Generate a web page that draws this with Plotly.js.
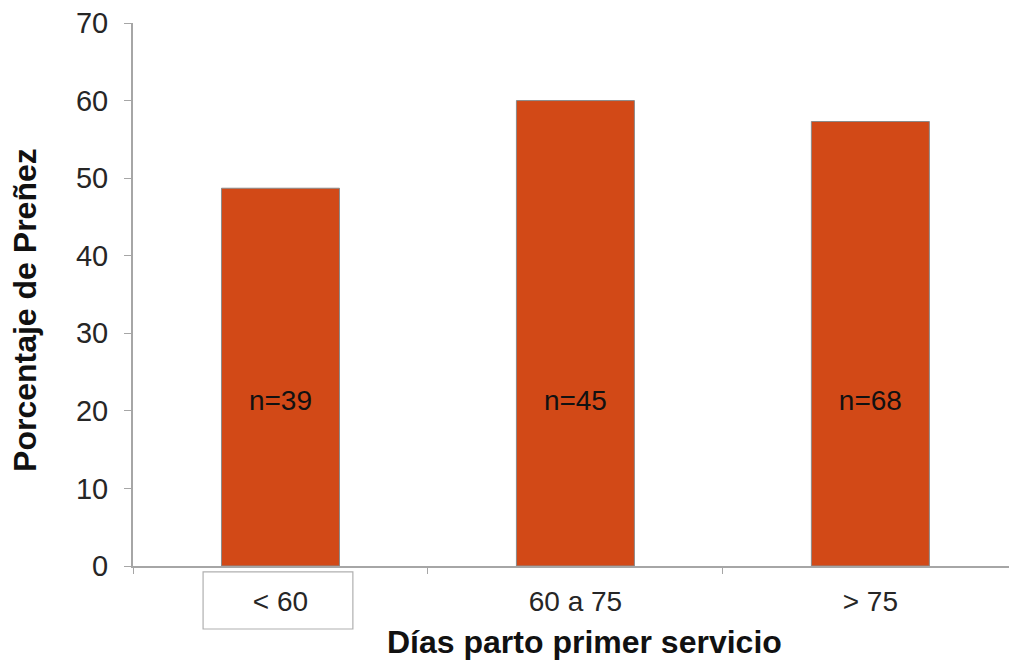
<!DOCTYPE html>
<html>
<head>
<meta charset="utf-8">
<script src="https://cdn.plot.ly/plotly-3.0.1.min.js"></script>
<style>
  html, body { margin: 0; padding: 0; background: #fff; }
  #chart { width: 1009px; height: 662px; }
</style>
</head>
<body>
<div id="chart"></div>
<script>
// Pregnancy rate by days from calving to first service
const categories = ['< 60', '60 a 75', '> 75'];
const pregnancyPct = [48.7, 60, 57.3];
const sampleSizes = [39, 45, 68];
const countLabelY = 21;

const FONT = 'Liberation Sans, Arial, sans-serif';

const bars = {
  type: 'bar',
  x: categories,
  y: pregnancyPct,
  width: 0.4,
  marker: { color: '#D24917', line: { color: '#8a8a8a', width: 1 } },
  hoverinfo: 'x+y'
};

const counts = {
  type: 'scatter',
  mode: 'text',
  x: categories,
  y: categories.map(() => countLabelY),
  text: sampleSizes.map(n => 'n=' + n),
  textfont: { family: FONT, size: 28, color: '#111' },
  hoverinfo: 'skip'
};

const layout = {
  width: 1009,
  height: 662,
  margin: { l: 133, r: 0, t: 23, b: 96 },
  paper_bgcolor: '#ffffff',
  plot_bgcolor: '#ffffff',
  showlegend: false,
  font: { family: FONT, color: '#262626' },
  xaxis: {
    type: 'category',
    range: [-0.5, 2.47],
    showline: true,
    linecolor: '#a6a6a6',
    linewidth: 2,
    ticks: 'outside',
    tickson: 'boundaries',
    ticklen: 6,
    tickcolor: '#a6a6a6',
    tickwidth: 1,
    ticklabelstandoff: 9,
    tickfont: { family: FONT, size: 28, color: '#262626' },
    showgrid: false,
    zeroline: false
  },
  yaxis: {
    range: [0, 70],
    dtick: 10,
    showline: true,
    linecolor: '#a6a6a6',
    linewidth: 2,
    ticks: 'outside',
    ticklen: 7,
    tickcolor: '#a6a6a6',
    tickwidth: 1,
    ticklabelstandoff: 10,
    tickfont: { family: FONT, size: 29, color: '#262626' },
    showgrid: false,
    zeroline: false
  },
  annotations: [
    {
      text: '<b>Días parto primer servicio</b>',
      xref: 'paper', yref: 'paper',
      x: 0.515, y: -0.140,
      xanchor: 'center', yanchor: 'middle',
      showarrow: false,
      font: { family: FONT, size: 32, color: '#111' }
    },
    {
      text: '<b>Porcentaje de Preñez</b>',
      xref: 'paper', yref: 'paper',
      x: -0.1233, y: 0.4715,
      xanchor: 'center', yanchor: 'middle',
      textangle: -90,
      showarrow: false,
      font: { family: FONT, size: 32, color: '#111' }
    }
  ],
  shapes: [{
    type: 'rect',
    xref: 'paper', yref: 'paper',
    x0: 0.080, x1: 0.251,
    y0: -0.011, y1: -0.116,
    fillcolor: '#ffffff',
    line: { color: '#b0b0b0', width: 1.2 },
    layer: 'below'
  }]
};

Plotly.newPlot('chart', [bars, counts], layout, { displayModeBar: false, staticPlot: true });
</script>
</body>
</html>
